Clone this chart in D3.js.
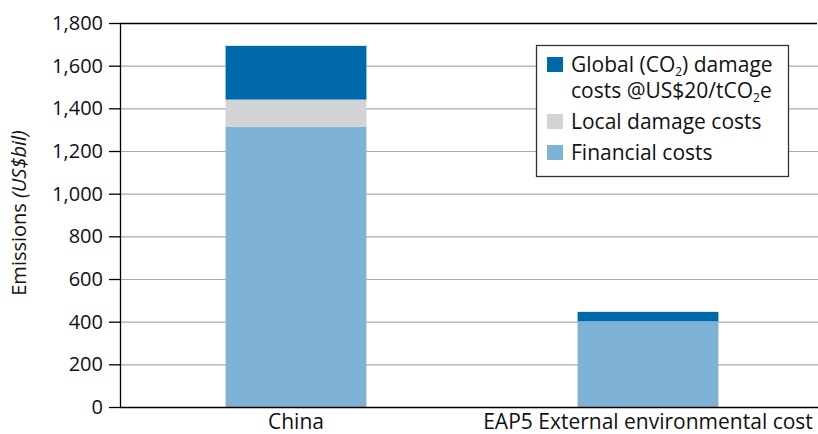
<!DOCTYPE html>
<html>
<head>
<meta charset="utf-8">
<script src="https://cdn.jsdelivr.net/npm/d3@7"></script>
<style>
  body { margin: 0; background: #fff; }
  text { font-family: "Open Sans", sans-serif; fill: #111; }
</style>
</head>
<body>
<div id="chart"></div>
<script>
var categories = ["China", "EAP5 External environmental cost"];
var financialCosts = [1313, 402];
var localDamage = [128, 0];
var globalDamage = [252, 44];
var yTicks = [0, 200, 400, 600, 800, 1000, 1200, 1400, 1600, 1800];
var seriesNames = ["Financial costs", "Local damage costs", "Global damage"];
var seriesColors = ["#7fb3d5", "#d1d3d4", "#0069aa"];

var width = 818, height = 434;
var margin = {top: 23, right: 0, bottom: 27, left: 120};
var w = width - margin.left - margin.right,
	h = height - margin.top - margin.bottom;

var rows = categories.map(function(c, i) {
	return {cat: c, "Financial costs": financialCosts[i], "Local damage costs": localDamage[i], "Global damage": globalDamage[i]};
});
var stacked = d3.stack().keys(seriesNames)(rows);

var x = d3.scaleBand().domain(categories).range([0, w + 6]).paddingInner(0.6).paddingOuter(0.3);
var y = d3.scaleLinear().domain([0, 1800]).range([h, 0]);

var svg = d3.select("#chart").append("svg")
	.attr("width", width)
	.attr("height", height)
		.append("g")
	.attr("transform", "translate(" + margin.left + "," + margin.top + ")");

// gridlines
svg.selectAll(".grid").data(yTicks.slice(1, -1)).enter().append("line")
	.attr("x1", 0)
	.attr("x2", w)
	.attr("y1", function(d) { return y(d) + 0.5; })
	.attr("y2", function(d) { return y(d) + 0.5; })
	.style("stroke", "#a7a9ac")
	.style("stroke-width", 1.2);

// bars
svg.selectAll(".series").data(stacked).enter().append("g")
	.attr("fill", function(d, i) { return seriesColors[i]; })
	.selectAll("rect").data(function(d) { return d; }).enter().append("rect")
	.attr("x", function(d) { return x(d.data.cat); })
	.attr("width", x.bandwidth())
	.attr("y", function(d) { return y(d[1]); })
	.attr("height", function(d) { return Math.max(0, y(d[0]) - y(d[1])); });

// frame: top line
svg.append("line")
	.attr("x1", 0).attr("x2", w - 1)
	.attr("y1", 0.5).attr("y2", 0.5)
	.style("stroke", "#000").style("stroke-width", 1.3);

var yAxis = d3.axisLeft(y).tickValues(yTicks).tickSize(11).tickPadding(6)
	.tickFormat(d3.format(","));
var gy = svg.append("g").call(yAxis);
gy.select(".domain").remove();
gy.append("line").attr("x1", 0.5).attr("x2", 0.5).attr("y1", 0).attr("y2", h)
	.style("stroke", "#000").style("stroke-width", 1.3);
gy.selectAll(".tick line").style("stroke", "#000").style("stroke-width", 1.3);
gy.selectAll("text").style("font-size", "20px").style("fill", "#111")
	.style("font-family", "'Open Sans', sans-serif");

var xAxis = d3.axisBottom(x).tickSize(0).tickPadding(7);
var gx = svg.append("g").attr("transform", "translate(0," + h + ")").call(xAxis);
gx.select(".domain").remove();
gx.append("line").attr("x1", 0).attr("x2", w).attr("y1", 0.5).attr("y2", 0.5)
	.style("stroke", "#000").style("stroke-width", 1.3);
gx.selectAll("text").style("font-size", "21px").style("fill", "#111")
	.style("font-family", "'Open Sans', sans-serif");

// y title
var yt = svg.append("text")
	.attr("transform", "translate(" + (-94) + "," + (h / 2 - 2) + ") rotate(-90)")
	.attr("text-anchor", "middle")
	.style("font-size", "20px");
yt.append("tspan").text("Emissions ");
yt.append("tspan").style("font-style", "italic").text("(US$bil)");

// legend
var legend = svg.append("g").attr("transform", "translate(" + 416 + "," + 22 + ")");
legend.append("rect")
	.attr("x", 0.5).attr("y", 0.5)
	.attr("width", 252).attr("height", 131)
	.style("fill", "#fff").style("stroke", "#333").style("stroke-width", 1.3);

var legendItems = [
	{color: seriesColors[2], y: 12},
	{color: seriesColors[1], y: 69},
	{color: seriesColors[0], y: 100}
];
legend.selectAll(".sw").data(legendItems).enter().append("rect")
	.attr("x", 11).attr("y", function(d) { return d.y; })
	.attr("width", 16).attr("height", 15)
	.style("fill", function(d) { return d.color; });

var t1 = legend.append("text").attr("x", 35).attr("y", 27).style("font-size", "21px");
t1.append("tspan").text("Global (CO");
t1.append("tspan").attr("dy", 4).style("font-size", "12px").text("2");
t1.append("tspan").attr("dy", -4).text(") damage");
var t2 = legend.append("text").attr("x", 35).attr("y", 53).style("font-size", "21px");
t2.append("tspan").text("costs @US$20/tCO");
t2.append("tspan").attr("dy", 4).style("font-size", "12px").text("2");
t2.append("tspan").attr("dy", -4).text("e");
legend.append("text").attr("x", 35).attr("y", 84).style("font-size", "21px").text("Local damage costs");
legend.append("text").attr("x", 35).attr("y", 115).style("font-size", "21px").text("Financial costs");
</script>
</body>
</html>
